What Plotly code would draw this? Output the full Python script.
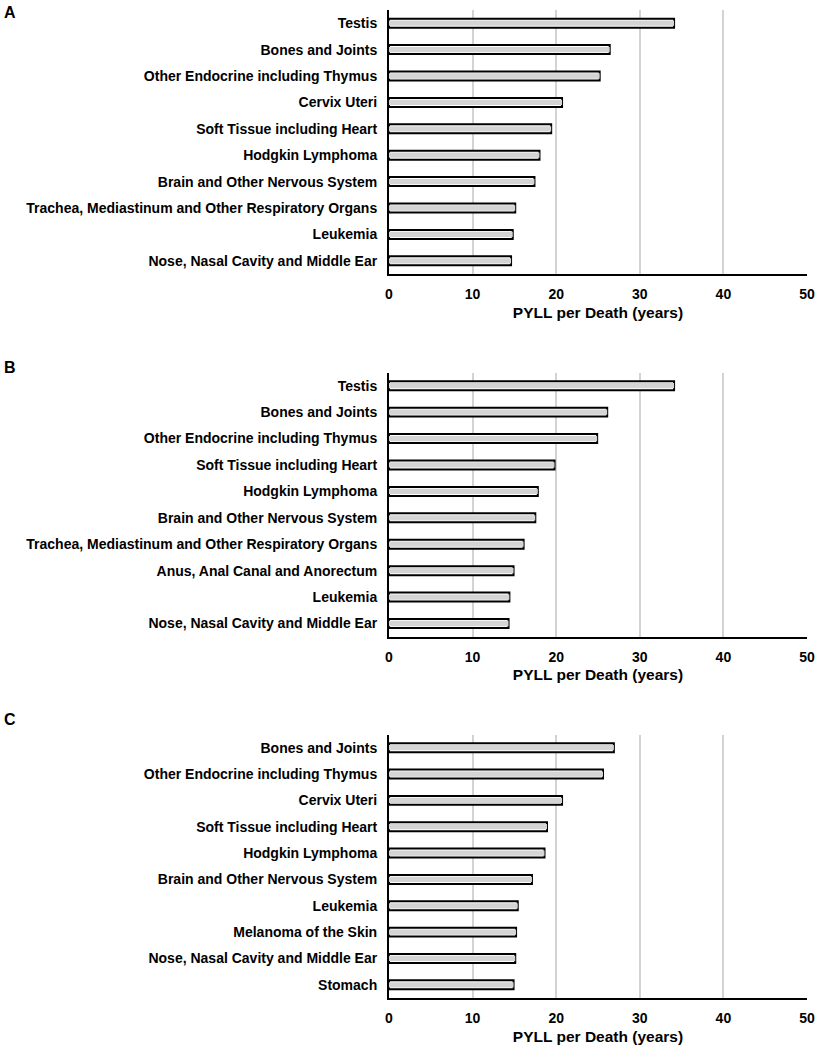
import plotly.graph_objects as go

cats_a = ["Testis", "Bones and Joints", "Other Endocrine including Thymus", "Cervix Uteri",
          "Soft Tissue including Heart", "Hodgkin Lymphoma", "Brain and Other Nervous System",
          "Trachea, Mediastinum and Other Respiratory Organs", "Leukemia",
          "Nose, Nasal Cavity and Middle Ear"]
vals_a = [34.1, 26.4, 25.2, 20.7, 19.4, 18.0, 17.4, 15.1, 14.8, 14.6]

cats_b = ["Testis", "Bones and Joints", "Other Endocrine including Thymus",
          "Soft Tissue including Heart", "Hodgkin Lymphoma", "Brain and Other Nervous System",
          "Trachea, Mediastinum and Other Respiratory Organs", "Anus, Anal Canal and Anorectum",
          "Leukemia", "Nose, Nasal Cavity and Middle Ear"]
vals_b = [34.1, 26.1, 24.9, 19.8, 17.8, 17.5, 16.1, 14.9, 14.4, 14.3]

cats_c = ["Bones and Joints", "Other Endocrine including Thymus", "Cervix Uteri",
          "Soft Tissue including Heart", "Hodgkin Lymphoma", "Brain and Other Nervous System",
          "Leukemia", "Melanoma of the Skin", "Nose, Nasal Cavity and Middle Ear", "Stomach"]
vals_c = [26.9, 25.6, 20.7, 18.9, 18.6, 17.1, 15.4, 15.2, 15.1, 14.9]

panel_labels = ["A", "B", "C"]
x_ticks = [0, 10, 20, 30, 40, 50]
x_title = "PYLL per Death (years)"

W, H = 819, 1050
FONT = "Arial, Liberation Sans, sans-serif"

# pixel geometry of each panel (top, bottom) and panel-letter centre y
panels_px = [(10, 274), (372.5, 636.7), (734.5, 998)]
label_y_px = [12, 367, 719]
x_px = (389, 807)

fig = go.Figure()
data = [(cats_a, vals_a), (cats_b, vals_b), (cats_c, vals_c)]

for i, ((cats, vals), (top, bot), lab, ly) in enumerate(zip(data, panels_px, panel_labels, label_y_px)):
    n = "" if i == 0 else str(i + 1)
    # outer bar: black outline with white interior (gives the thin white inner rim)
    fig.add_trace(go.Bar(
        x=vals, y=cats, orientation="h", width=0.34,
        marker=dict(color="white", line=dict(color="black", width=2)),
        xaxis="x" + n, yaxis="y" + n, showlegend=False, hoverinfo="x+y",
    ))
    # inner gray fill
    fig.add_trace(go.Bar(
        x=vals, y=cats, orientation="h", width=0.2,
        marker=dict(color="#d4d4d4", line=dict(width=0)),
        xaxis="x" + n, yaxis="y" + n, showlegend=False, hoverinfo="skip",
    ))
    fig.layout["xaxis" + n] = dict(
        domain=[x_px[0] / W, x_px[1] / W], anchor="y" + n, range=[0, 50],
        automargin=False,
        tickvals=x_ticks, showgrid=True, gridcolor="#d3d3d3", gridwidth=1.5,
        zeroline=False, showline=True, linecolor="black", linewidth=2,
        ticks="outside", ticklen=6, tickcolor="rgba(0,0,0,0)",
        tickfont=dict(family=FONT, size=14, color="black", weight="bold"),
        title=dict(text="<b>" + x_title + "</b>", standoff=6,
                   font=dict(family=FONT, size=15.5, color="black")),
        fixedrange=True,
    )
    fig.layout["yaxis" + n] = dict(
        domain=[1 - bot / H, 1 - top / H], anchor="x" + n,
        automargin=False,
        categoryorder="array", categoryarray=cats, range=[9.5, -0.5],
        showgrid=False, zeroline=False, showline=True, linecolor="black", linewidth=2,
        ticks="outside", ticklen=7, tickcolor="rgba(0,0,0,0)",
        tickfont=dict(family=FONT, size=14, color="black", weight="bold"),
        fixedrange=True,
    )
    fig.add_annotation(
        text="<b>" + lab + "</b>", x=9.5 / W, y=1 - ly / H, xref="paper", yref="paper",
        xanchor="center", yanchor="middle", showarrow=False, borderpad=0,
        font=dict(family=FONT, size=16, color="black"),
    )

fig.update_layout(
    width=W, height=H, margin=dict(l=0, r=0, t=0, b=0, autoexpand=False), autosize=False,
    paper_bgcolor="white", plot_bgcolor="white", barmode="overlay",
    font=dict(family=FONT, color="black"),
)

fig.write_html(
    "out.html",
    config={"responsive": False, "displayModeBar": False},
    post_script="document.body.style.margin='0';document.body.style.overflow='hidden';",
)
